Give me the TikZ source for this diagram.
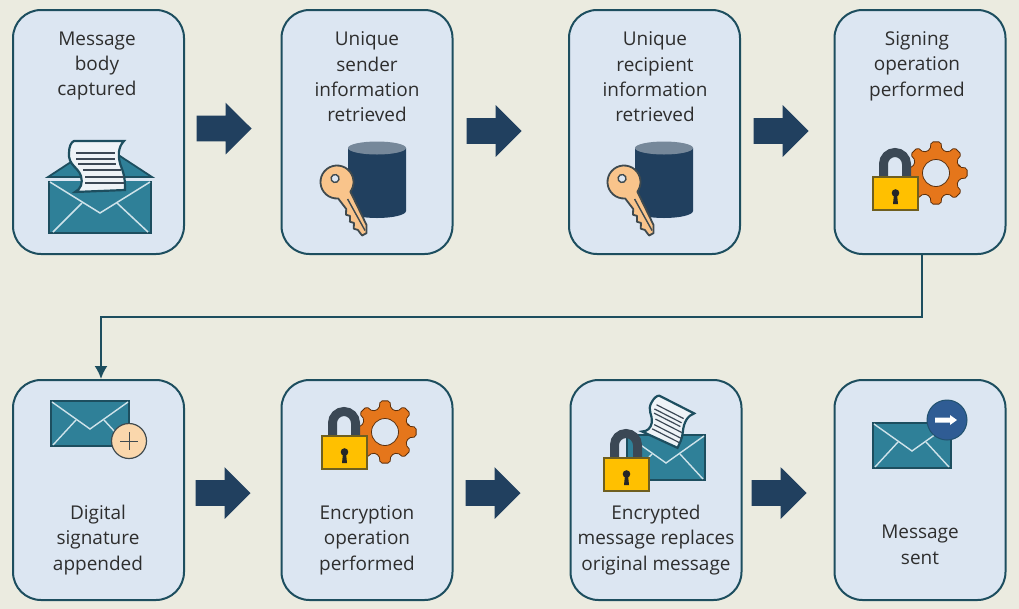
\documentclass[tikz,border=0pt]{standalone}
\usepackage{fontspec}
\setmainfont{Open Sans}
\usetikzlibrary{arrows.meta,shapes.arrows}
\definecolor{pagebg}{HTML}{EBEBE0}
\definecolor{boxfill}{HTML}{DCE6F2}
\definecolor{boxline}{HTML}{1D4E5F}
\definecolor{navy}{HTML}{21405F}
\definecolor{teal}{HTML}{2F8098}
\definecolor{foldline}{HTML}{CFE3EA}
\definecolor{paperfill}{HTML}{EEF3F7}
\definecolor{lockgold}{HTML}{FFC000}
\definecolor{lockrim}{HTML}{6F5F20}
\definecolor{shackle}{HTML}{3B4855}
\definecolor{gearorange}{HTML}{E5761B}
\definecolor{keyfill}{HTML}{F9C48B}
\definecolor{keyrim}{HTML}{3F4A4F}
\definecolor{dbtop}{HTML}{76889A}
\definecolor{badgeblue}{HTML}{2F5C94}
\definecolor{badgepeach}{HTML}{FAD7AC}
\newcommand{\pxu}{0.02cm}
\tikzset{
    stepbox/.style={draw=boxline, fill=boxfill, line width=2*\pxu, rounded corners=28*\pxu, minimum width=171*\pxu},
    toprow/.style={stepbox, minimum height=244*\pxu},
    lowrow/.style={stepbox, minimum height=220*\pxu},
    steptext/.style={align=center, text=black!82, font=\fontsize{10.8}{14.45}\selectfont},
    flowarrow/.style={shape=single arrow, anchor=tip, fill=navy, inner xsep=0pt, inner ysep=12.5*\pxu, minimum height=55*\pxu, single arrow head extend=13*\pxu},
    % closed envelope, 78 by 45
    envelope/.pic={
        \draw[boxline, fill=teal, line width=1.2*\pxu] (0,0) rectangle (78,45);
        \draw[foldline, line width=1.4*\pxu] (1,1) -- (39,28) -- (77,1);
        \draw[foldline, line width=1.4*\pxu] (25,19) -- (2,44);
        \draw[foldline, line width=1.4*\pxu] (53,19) -- (76,44);
    },
    % sheet of text
    letterpaper/.pic={
        \draw[boxline, fill=paperfill, line width=2.2*\pxu] (2,0) -- (52,0) .. controls (46,6) and (45,16) .. (50,28) .. controls (53,36) and (53,42) .. (53,49) -- (3,51) .. controls (9,48) and (11,42) .. (9,35) .. controls (6,26) and (-4,24) .. (-3,12) .. controls (-3,6) and (-1,1) .. (2,0) -- cycle;
        \foreach \ly/\la/\lb in {12/4/43,18/4/43,23/6/44,29/11/49,36/13/52,42/13/52}
            \draw[shackle, line width=1.2*\pxu] (\la,\ly) -- (\lb,\ly);
    },
    % envelope with raised flap, body 102 by 52
    openenvelope/.pic={
        \draw[boxline, fill=teal, line width=1.8*\pxu] (-1,-4) -- (51,-38) -- (103,-4) -- cycle;
        \fill[teal] (0,0) rectangle (102,52);
        \draw[boxline, line width=2.4*\pxu] (-1,-4) -- (103,-4);
        \pic at (23,-40) {letterpaper};
        \fill[teal] (0,1) -- (51,32) -- (102,1) -- (102,52) -- (0,52) -- cycle;
        \draw[boxline, line width=1.2*\pxu] (0,0) -- (0,52) -- (102,52) -- (102,0);
        \draw[foldline, line width=1.5*\pxu] (1,1) -- (51,32) -- (101,1);
        \draw[foldline, line width=1.5*\pxu] (33,22) -- (4,51);
        \draw[foldline, line width=1.5*\pxu] (68,22) -- (99,51);
    },
    % padlock, body 45 by 33
    padlock/.pic={
        \draw[shackle, line width=9*\pxu] (10.5,2) -- (10.5,-13) arc (180:360:11.5) -- (33.5,2);
        \draw[lockrim, fill=lockgold, line width=1.2*\pxu] (0,0) rectangle (45,33);
        \fill[black!85] (22.5,16) circle (3.8);
        \fill[black!85] (21,17) -- (24,17) -- (25,27) -- (20,27) -- cycle;
    },
    % gear, centre at the origin
    cogwheel/.pic={
        \draw[black!60!gearorange, fill=gearorange, line width=.8*\pxu, rounded corners=2*\pxu]
            (-14:24) \foreach \a in {0,45,...,315} { -- (\a-14:24) -- (\a-9:31.5) -- (\a+9:31.5) -- (\a+14:24) } -- cycle;
        \draw[black!60!gearorange, fill=boxfill, line width=.8*\pxu] (0,0) circle (13.5);
    },
    lockgear/.pic={
        \pic at (63,-4) {cogwheel};
        \pic at (0,0) {padlock};
    },
    % cylinder with key, origin at left of top ellipse
    keydb/.pic={
        \fill[navy] (0,0) -- (0,63) arc (180:0:29 and 7) -- (58,0) -- cycle;
        \fill[dbtop] (29,0) ellipse (29 and 6.5);
        \begin{scope}[shift={(-11,34)}, rotate=-61]
            \draw[keyrim, fill=keyfill, line width=1.8*\pxu, line join=round] (25:16.5) arc (25:335:16.5) -- (52,-5) -- (59,-1) -- (59,4) -- (52,5) -- (49,8) -- (44,5) -- (41,8) -- (36,5) -- (33,8) -- (28,5) -- cycle;
            \draw[keyrim, line width=1.4*\pxu] (20,-1) -- (56,-1);
            \draw[keyrim, fill=boxfill, line width=1.4*\pxu] (-4,0) circle (4);
        \end{scope}
    },
}
\begin{document}
\begin{tikzpicture}[x=\pxu,y=-\pxu]
    \useasboundingbox (0,0) rectangle (1019,609);
    \fill[pagebg] (0,0) rectangle (1019,609);
    % Top row
    \node[toprow] (capture) at (98.5,132) {};
    \node[toprow] (sender) at (367,132) {};
    \node[toprow] (recipient) at (654.5,132) {};
    \node[toprow] (signing) at (920,132) {};
    % Bottom row
    \node[lowrow] (append) at (98.5,490) {};
    \node[lowrow] (encrypt) at (367,490) {};
    \node[lowrow] (replace) at (656,490) {};
    \node[lowrow] (sent) at (920,490) {};
    % Labels
    \node[steptext] (captureT) at (97,66) {Message\\body\\captured};
    \node[steptext] (senderT) at (367,77) {Unique\\sender\\information\\retrieved};
    \node[steptext] (recipientT) at (655,77) {Unique\\recipient\\information\\retrieved};
    \node[steptext] (signingT) at (917,66) {Signing\\operation\\performed};
    \node[steptext] (appendT) at (98,540) {Digital\\signature\\appended};
    \node[steptext] (encryptT) at (367,540) {Encryption\\operation\\performed};
    \node[steptext] (replaceT) at (656,540) {Encrypted\\message replaces\\original message};
    \node[steptext] (sentT) at (920,545) {Message\\sent};
    % Block arrows
    \node[flowarrow] (arrowA) at (252,128.5) {};
    \node[flowarrow] (arrowB) at (522,131) {};
    \node[flowarrow] (arrowC) at (809,131) {};
    \node[flowarrow] (arrowD) at (251,493) {};
    \node[flowarrow] (arrowE) at (521,493) {};
    \node[flowarrow] (arrowF) at (807,493) {};
    % Line from top row to bottom row
    \coordinate (turnA) at (922,317);
    \coordinate (turnB) at (101,317);
    \draw[boxline, line width=2*\pxu, -{Latex[length=13*\pxu,width=13*\pxu]}] (signing.south -| turnA) -- (turnA) -- (turnB) -- (append.north -| turnB);
    % Icons
    \pic at (49,181) {openenvelope};
    \pic at (348,148) {keydb};
    \pic at (635,148) {keydb};
    \pic at (873,177) {lockgear};
    \pic at (51,401) {envelope};
    \draw[keyrim, fill=badgepeach, line width=1.2*\pxu] (129,441) circle (17.5);
    \draw[keyrim, line width=1*\pxu] (120,441) -- (138,441) (129,432) -- (129,450);
    \pic at (322,436) {lockgear};
    \pic at (627,435) {envelope};
    \pic[rotate=-27, scale=.78] at (658,395) {letterpaper};
    \pic at (604,458) {padlock};
    \pic at (873,423) {envelope};
    \draw[boxline!70!badgeblue, fill=badgeblue, line width=1*\pxu] (947,420) circle (20);
    \fill[white] (935,417.5) -- (950,417.5) -- (950,415) -- (957,420) -- (950,425) -- (950,422.5) -- (935,422.5) -- cycle;
\end{tikzpicture}
\end{document}
